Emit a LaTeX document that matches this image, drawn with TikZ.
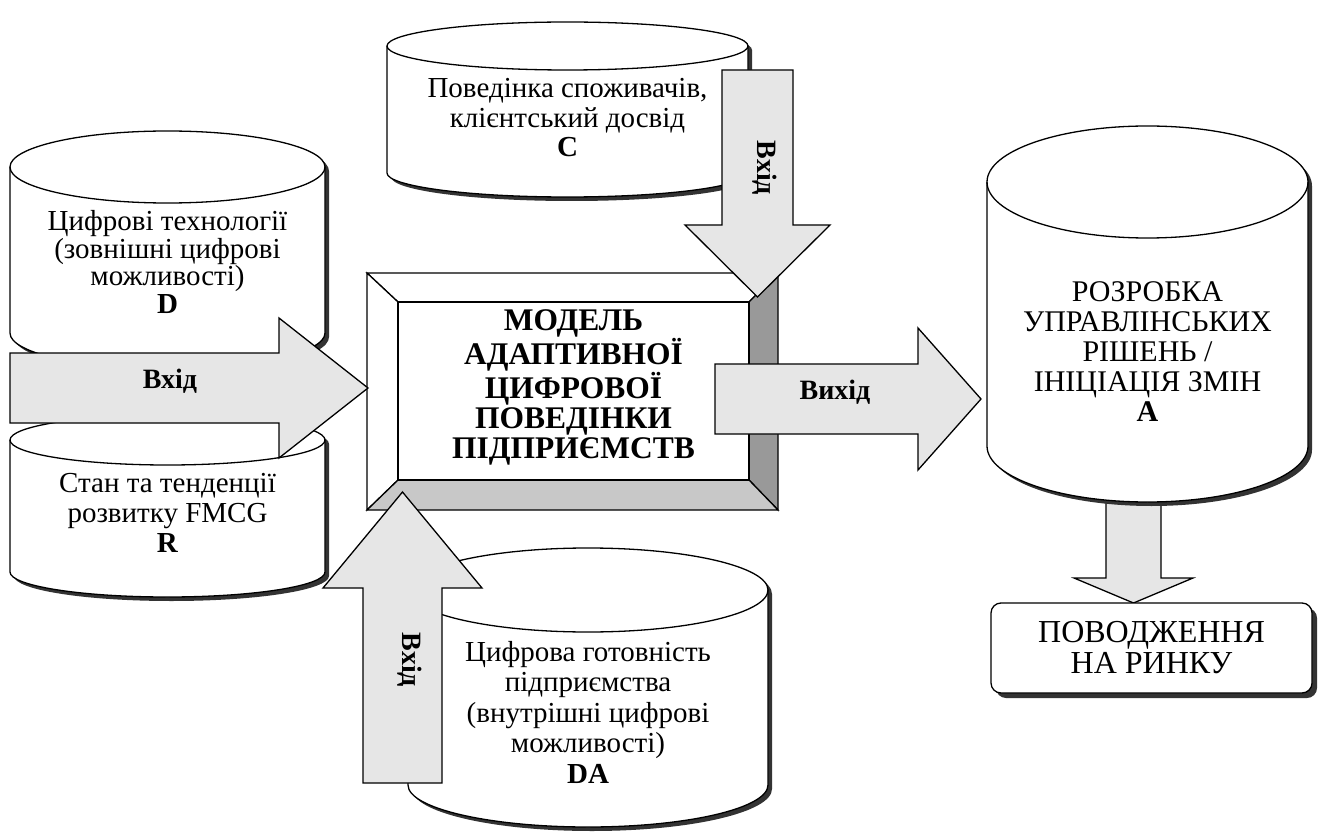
\documentclass[tikz,border=0pt]{standalone}
\usepackage{fontspec}
\setmainfont{Liberation Serif}
\usetikzlibrary{calc}
\definecolor{arrowgray}{HTML}{E6E6E6}
\definecolor{bevR}{HTML}{999999}
\definecolor{bevB}{HTML}{C8C8C8}
\definecolor{shad}{HTML}{333333}
\tikzset{
  outl/.style={draw=black, line width=1.3pt, line join=miter},
  blockarrow/.style={outl, fill=arrowgray},
  cyltext/.style={align=center, inner sep=0pt, font=\fontsize{29}{29.5}\selectfont},
  lbl/.style={inner sep=0pt, font=\fontsize{28}{28}\selectfont\bfseries},
}
\newcommand\mycyl[5]{%
  \pgfmathsetmacro\crx{(#2-#1)/2}%
  \fill[shad, shift={(4,4)}] (#1,#3) -- (#1,#4)
     arc[start angle=180,end angle=360,x radius=\crx pt,y radius=#5pt] -- (#2,#3)
     arc[start angle=0,end angle=180,x radius=\crx pt,y radius=#5pt] -- cycle;
  \filldraw[outl, fill=white] (#1,#3) -- (#1,#4)
     arc[start angle=180,end angle=360,x radius=\crx pt,y radius=#5pt] -- (#2,#3)
     arc[start angle=0,end angle=180,x radius=\crx pt,y radius=#5pt] -- cycle;
  \draw[outl] (#1,#3) arc[start angle=180,end angle=360,x radius=\crx pt,y radius=#5pt];
}
\begin{document}
\begin{tikzpicture}[x=1pt,y=-1pt]
\useasboundingbox (0,0) rectangle (1322,834);
\fill[white] (0,0) rectangle (1322,834);

% cylinder C
\mycyl{387}{748}{46}{173}{24}
\node[cyltext] (c) at (567.5,118) {Поведінка споживачів,\\клієнтський досвід\\\textbf{C}};

% cylinder D
\mycyl{10}{325}{167}{333}{36}
\node[cyltext, font=\fontsize{29}{27.5}\selectfont] (d) at (167.5,262) {Цифрові технології\\(зовнішні цифрові\\можливості)\\\textbf{D}};

% cylinder R
\mycyl{10}{325}{440}{572}{25}
\node[cyltext, font=\fontsize{29}{30}\selectfont] (r) at (167.5,513) {Стан та тенденції\\розвитку FMCG\\\textbf{R}};

% cylinder DA
\mycyl{408}{768}{590}{785}{42}
\node[cyltext, font=\fontsize{29}{30.5}\selectfont] (da) at (588,712) {Цифрова готовність\\підприємства\\(внутрішні цифрові\\можливості)\\\textbf{DA}};

% arrow A -> market
\filldraw[blockarrow] (1106,495) -- (1161,495) -- (1161,578) -- (1193,578) -- (1133.5,603)
  -- (1074,578) -- (1106,578) -- cycle;

% cylinder A
\mycyl{987}{1308}{182}{446}{56}
\node[cyltext, font=\fontsize{30}{30}\selectfont] (a) at (1147.5,352) {РОЗРОБКА\\УПРАВЛІНСЬКИХ\\РІШЕНЬ /\\ІНІЦІАЦІЯ ЗМІН\\\textbf{A}};

% market box
\fill[shad, rounded corners=10pt] (996,608) rectangle (1317,698);
\filldraw[outl, fill=white, rounded corners=10pt] (991,603) rectangle (1312,693);
\node[align=center, inner sep=0pt, font=\fontsize{32}{31}\selectfont] (market) at (1151.5,648) {ПОВОДЖЕННЯ\\НА РИНКУ};

% central bevel box
\filldraw[outl, fill=white] (367,273) -- (778,273) -- (749,302) -- (398,302) -- cycle;
\filldraw[outl, fill=white] (367,273) -- (398,302) -- (398,480) -- (367,510) -- cycle;
\filldraw[outl, fill=bevR] (778,273) -- (778,510) -- (749,480) -- (749,302) -- cycle;
\filldraw[outl, fill=bevB] (367,510) -- (778,510) -- (749,480) -- (398,480) -- cycle;
\filldraw[outl, fill=white] (398,302) rectangle (749,480);
\node[align=center, inner sep=0pt, font=\fontsize{31.5}{30}\selectfont\bfseries] (model) at (573.5,387)
  {МОДЕЛЬ\\АДАПТИВНОЇ\\ЦИФРОВОЇ\\ПОВЕДІНКИ\\ПІДПРИЄМСТВ};

% arrow D/R -> model
\filldraw[blockarrow] (10,353) -- (279,353) -- (279,318) -- (368,388) -- (279,458)
  -- (279,423) -- (10,423) -- cycle;
\node[lbl] (in1) at (170,381) {Вхід};

% arrow C -> model
\filldraw[blockarrow] (722,70) -- (793,70) -- (793,225) -- (830,225) -- (757.5,297)
  -- (685,225) -- (722,225) -- cycle;
\node[lbl, rotate=-90, anchor=base] (in2) at (757.5,168) {Вхід};

% arrow DA -> model
\filldraw[blockarrow] (363,783) -- (442,783) -- (442,588) -- (482,588) -- (402.5,492)
  -- (323,588) -- (363,588) -- cycle;
\node[lbl, rotate=-90, anchor=base] (in3) at (402.5,660) {Вхід};

% arrow model -> A
\filldraw[blockarrow] (715,364) -- (918,364) -- (918,328) -- (981,399) -- (918,470)
  -- (918,434) -- (715,434) -- cycle;
\node[lbl] (out) at (835,392) {Вихід};
\end{tikzpicture}
\end{document}
